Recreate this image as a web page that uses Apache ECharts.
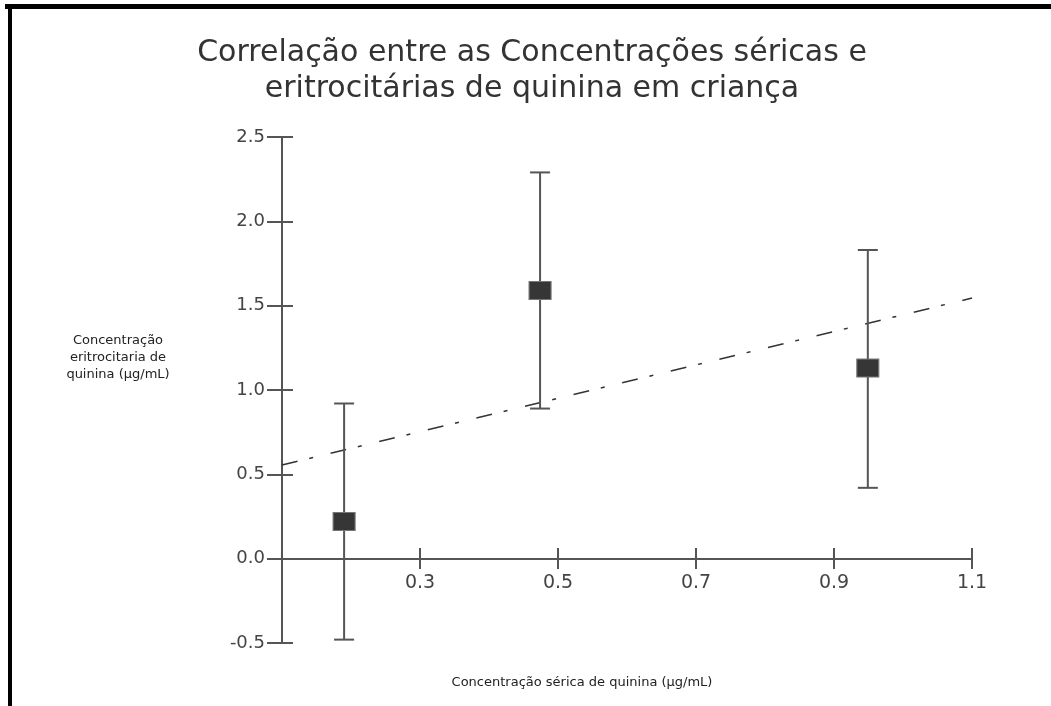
<!DOCTYPE html>
<html>
<head>
<meta charset="utf-8">
<script src="https://cdn.jsdelivr.net/npm/echarts@6/dist/echarts.min.js"></script>
<style>
    html, body { margin: 0; padding: 0; background: #fff; }
    #chart { width: 1051px; height: 706px; }
</style>
</head>
<body>
<div id="chart"></div>
<script>
// serum concentration (x), erythrocyte concentration (y) and error limits
var serum = [0.19, 0.474, 0.949];
var eritro = [0.22, 1.59, 1.13];
var errLow = [-0.48, 0.89, 0.42];
var errHigh = [0.92, 2.29, 1.83];
// regression line end points
var fitLine = [[0.1, 0.555], [1.1, 1.545]];
var xTicks = [0.1, 1.1, 0.2];    // min, max, step
var yTicks = [-0.5, 2.5, 0.5];

var chart = echarts.init(document.getElementById('chart'));

var axisColor = '#555';
var font = 'DejaVu Sans, Verdana, sans-serif';

var points = serum.map(function (x, i) { return [x, eritro[i]]; });
var bars = serum.map(function (x, i) { return [x, errLow[i], errHigh[i]]; });

// x axis sits on y = 0, i.e. 84px above the grid bottom
var xOffset = -84;

var option = {
    backgroundColor: '#fff',
    animation: false,
    title: {
        text: 'Correlação entre as Concentrações séricas e\neritrocitárias de quinina em criança',
        left: 527,
        top: 30,
        textAlign: 'center',
        textStyle: {
            fontFamily: font,
            fontSize: 30,
            fontWeight: 'normal',
            color: '#333',
            lineHeight: 36
        }
    },
    grid: { left: 282, right: 79, top: 137, bottom: 63 },
    xAxis: [
        {
            type: 'value',
            min: xTicks[0], max: xTicks[1], interval: xTicks[2],
            position: 'bottom',
            offset: xOffset,
            splitLine: { show: false },
            axisLine: { onZero: false, lineStyle: { color: axisColor, width: 2 } },
            axisTick: { length: 10, lineStyle: { color: axisColor, width: 2 } },
            axisLabel: {
                showMinLabel: false,
                margin: 15,
                color: '#444',
                fontSize: 19,
                fontFamily: font,
                formatter: function (v) { return v.toFixed(1); }
            }
        },
        {
            type: 'value',
            min: xTicks[0], max: xTicks[1], interval: xTicks[2],
            position: 'bottom',
            offset: xOffset,
            splitLine: { show: false },
            axisLine: { show: false, onZero: false },
            axisTick: { inside: true, length: 11, lineStyle: { color: axisColor, width: 2 } },
            axisLabel: { show: false }
        }
    ],
    yAxis: [
        {
            type: 'value',
            min: yTicks[0], max: yTicks[1], interval: yTicks[2],
            position: 'left',
            splitLine: { show: false },
            axisLine: { onZero: false, lineStyle: { color: axisColor, width: 2 } },
            axisTick: { length: 15, lineStyle: { color: axisColor, width: 2 } },
            axisLabel: {
                margin: 17,
                color: '#444',
                fontSize: 18,
                fontFamily: font,
                formatter: function (v) { return v.toFixed(1); }
            }
        },
        {
            type: 'value',
            min: yTicks[0], max: yTicks[1], interval: yTicks[2],
            position: 'left',
            splitLine: { show: false },
            axisLine: { show: false, onZero: false },
            axisTick: { inside: true, length: 11, lineStyle: { color: axisColor, width: 2 } },
            axisLabel: { show: false }
        }
    ],
    series: [
        {
            type: 'line',
            data: fitLine,
            symbol: 'none',
            silent: true,
            lineStyle: { color: '#333', width: 1.5, type: [16, 12, 4, 18] },
            z: 1
        },
        {
            type: 'custom',
            data: bars,
            z: 2,
            renderItem: function (params, api) {
                var top = api.coord([api.value(0), api.value(2)]);
                var bot = api.coord([api.value(0), api.value(1)]);
                var half = 10;
                var style = { stroke: axisColor, lineWidth: 2 };
                return {
                    type: 'group',
                    children: [
                        { type: 'line', shape: { x1: top[0], y1: top[1], x2: bot[0], y2: bot[1] }, style: style },
                        { type: 'line', shape: { x1: top[0] - half, y1: top[1], x2: top[0] + half, y2: top[1] }, style: style },
                        { type: 'line', shape: { x1: bot[0] - half, y1: bot[1], x2: bot[0] + half, y2: bot[1] }, style: style }
                    ]
                };
            }
        },
        {
            type: 'scatter',
            data: points,
            symbol: 'rect',
            symbolSize: [22, 18],
            itemStyle: { color: '#363636', borderColor: '#777', borderWidth: 1, opacity: 1 },
            z: 3
        }
    ],
    graphic: [
        { type: 'rect', shape: { x: 5, y: 4, width: 1046, height: 5 }, style: { fill: '#000' } },
        { type: 'rect', shape: { x: 8, y: 4, width: 4, height: 702 }, style: { fill: '#000' } },
        {
            type: 'text',
            style: {
                text: 'Concentração\neritrocitaria de\nquinina (µg/mL)',
                x: 118, y: 332,
                textAlign: 'center',
                fill: '#222',
                font: '13px ' + font,
                lineHeight: 17
            }
        },
        {
            type: 'text',
            style: {
                text: 'Concentração sérica de quinina (µg/mL)',
                x: 582, y: 676,
                textAlign: 'center',
                fill: '#222',
                font: '13px ' + font
            }
        }
    ]
};

chart.setOption(option);
</script>
</body>
</html>
